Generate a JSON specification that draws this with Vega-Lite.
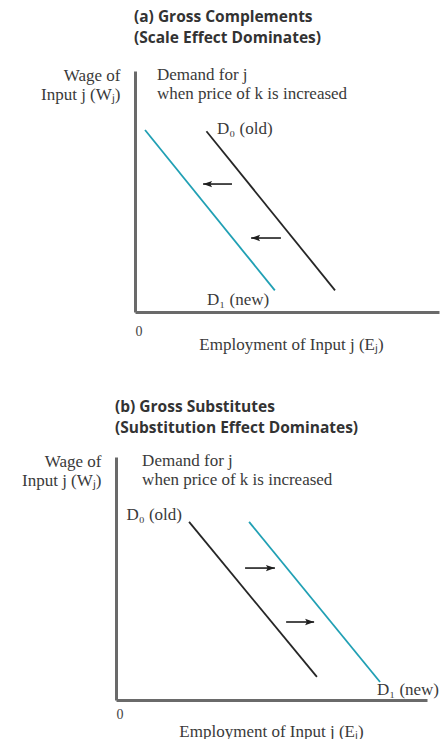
{
  "$schema": "https://vega.github.io/schema/vega-lite/v6.json",
  "background": "white",
  "padding": {"left": 21, "top": 10, "right": 0, "bottom": 0},
  "bounds": "flush",
  "spacing": 145,
  "config": {
    "view": {"stroke": null},
    "axis": {
      "domainColor": "#6a6a6a",
      "domainWidth": 3,
      "ticks": false,
      "grid": false,
      "labelFont": "Liberation Serif",
      "labelFontSize": 14,
      "labelColor": "#444444",
      "labelPadding": 12,
      "titleFont": "Liberation Serif",
      "titleFontSize": 17,
      "titleFontWeight": "normal",
      "titleColor": "#3a3a3a",
      "titleAngle": 0,
      "titleBaseline": "middle",
      "titleLineHeight": 19
    },
    "axisY": {"titleAlign": "right"},
    "axisX": {"titleAlign": "center"},
    "title": {
      "font": "Open Sans",
      "fontSize": 15.5,
      "fontWeight": "bold",
      "color": "#333333",
      "lineHeight": 21,
      "anchor": "start",
      "frame": "group"
    },
    "text": {"font": "Liberation Serif", "fontSize": 17, "color": "#3a3a3a", "baseline": "middle", "lineHeight": 19, "lineBreak": "\n"}
  },
  "datasets": {
    "curvesA": [
      {"curve": "D0", "x": 2.35, "y": 7.5},
      {"curve": "D0", "x": 6.58, "y": 0.9},
      {"curve": "D1", "x": 0.33, "y": 7.55},
      {"curve": "D1", "x": 4.6, "y": 0.9}
    ],
    "arrowsA": [
      {"x": 2.24, "x2": 3.19, "y": 5.31},
      {"x": 3.82, "x2": 4.8, "y": 3.07}
    ],
    "notesA": [
      {"label": "Demand for j\nwhen price of k is increased", "x": 0.72, "y": 9.85},
      {"label": "D₀ (old)", "x": 2.7, "y": 7.6},
      {"label": "D₁ (new)", "x": 2.37, "y": 0.5}
    ],
    "curvesB": [
      {"curve": "D0", "x": 2.35, "y": 7.33},
      {"curve": "D0", "x": 6.46, "y": 0.95},
      {"curve": "D1", "x": 4.28, "y": 7.33},
      {"curve": "D1", "x": 8.49, "y": 0.74}
    ],
    "arrowsB": [
      {"x": 5.11, "x2": 4.15, "y": 5.43},
      {"x": 6.37, "x2": 5.47, "y": 3.21}
    ],
    "notesB": [
      {"label": "Demand for j\nwhen price of k is increased", "x": 0.84, "y": 9.85},
      {"label": "D₁ (new)", "x": 8.39, "y": 0.4}
    ],
    "oldLabelB": [
      {"label": "D₀ (old)", "x": 2.12, "y": 7.6}
    ]
  },
  "vconcat": [
    {
      "width": 304,
      "height": 241,
      "title": {"text": ["(a) Gross Complements", "(Scale Effect Dominates)"], "offset": 19, "dx": -1},
      "encoding": {
        "x": {
          "field": "x", "type": "quantitative",
          "scale": {"domain": [0, 10]},
          "axis": {"values": [0], "title": "Employment of Input j (Eⱼ)", "titleX": 156, "titleY": 32}
        },
        "y": {
          "field": "y", "type": "quantitative",
          "scale": {"domain": [0, 10]},
          "axis": {"values": [], "title": ["Wage of", "Input j (Wⱼ)"], "titleX": -15, "titleY": 4}
        }
      },
      "layer": [
        {
          "data": {"name": "curvesA"},
          "mark": {"type": "line", "strokeWidth": 1.8},
          "encoding": {
            "color": {"field": "curve", "type": "nominal", "scale": {"domain": ["D0", "D1"], "range": ["#262626", "#21a0b4"]}, "legend": null}
          }
        },
        {
          "data": {"name": "arrowsA"},
          "mark": {"type": "rule", "strokeWidth": 1.6, "color": "#1e1e1e"},
          "encoding": {"x2": {"field": "x2"}}
        },
        {
          "data": {"name": "arrowsA"},
          "mark": {"type": "point", "shape": "M0,0L2,-0.7L1.6,0L2,0.7Z", "size": 81, "filled": true, "color": "#1e1e1e", "opacity": 1}
        },
        {
          "data": {"name": "notesA"},
          "mark": {"type": "text", "align": "left"},
          "encoding": {"text": {"field": "label", "type": "nominal"}}
        }
      ]
    },
    {
      "width": 292,
      "height": 243,
      "title": {"text": ["(b) Gross Substitutes", "(Substitution Effect Dominates)"], "offset": 15, "dx": -20},
      "encoding": {
        "x": {
          "field": "x", "type": "quantitative",
          "scale": {"domain": [0, 10], "range": [-19, 292]},
          "axis": {"values": [0], "title": "Employment of Input j (Eⱼ)", "titleX": 136, "titleY": 31, "labelPadding": 7}
        },
        "y": {
          "field": "y", "type": "quantitative",
          "scale": {"domain": [0, 10]},
          "axis": {"values": [], "offset": 19, "title": ["Wage of", "Input j (Wⱼ)"], "titleX": -15, "titleY": 4}
        }
      },
      "layer": [
        {
          "data": {"name": "curvesB"},
          "mark": {"type": "line", "strokeWidth": 1.8},
          "encoding": {
            "color": {"field": "curve", "type": "nominal", "scale": {"domain": ["D0", "D1"], "range": ["#262626", "#21a0b4"]}, "legend": null}
          }
        },
        {
          "data": {"name": "arrowsB"},
          "mark": {"type": "rule", "strokeWidth": 1.6, "color": "#1e1e1e"},
          "encoding": {"x2": {"field": "x2"}}
        },
        {
          "data": {"name": "arrowsB"},
          "mark": {"type": "point", "shape": "M0,0L-2,-0.7L-1.6,0L-2,0.7Z", "size": 81, "filled": true, "color": "#1e1e1e", "opacity": 1}
        },
        {
          "data": {"name": "notesB"},
          "mark": {"type": "text", "align": "left"},
          "encoding": {"text": {"field": "label", "type": "nominal"}}
        },
        {
          "data": {"name": "oldLabelB"},
          "mark": {"type": "text", "align": "right"},
          "encoding": {"text": {"field": "label", "type": "nominal"}}
        }
      ]
    }
  ]
}
